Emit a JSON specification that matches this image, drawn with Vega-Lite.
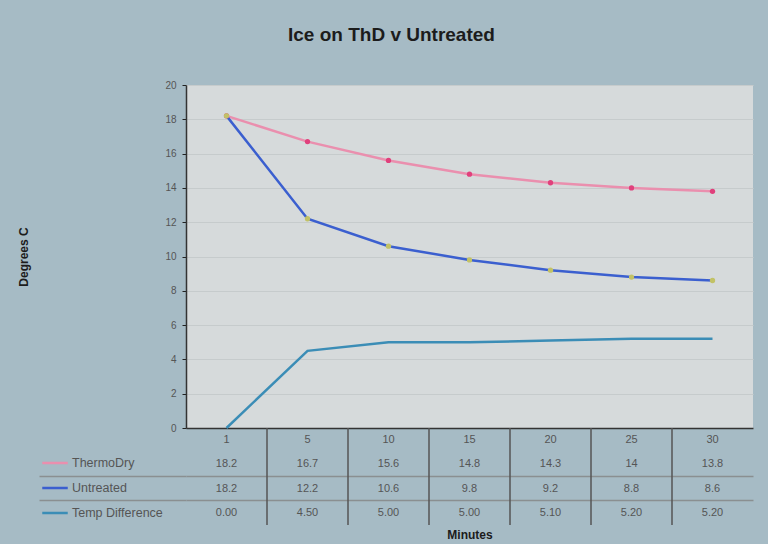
{
  "$schema": "https://vega.github.io/schema/vega-lite/v6.json",
  "background": "#a6bbc5",
  "padding": {"left": 17, "top": 26, "right": 16, "bottom": 4},
  "title": {"text": "Ice on ThD v Untreated", "font": "Liberation Sans", "fontSize": 19, "fontWeight": "bold", "color": "#1c1c1c", "anchor": "middle", "offset": 35, "dx": 6},
  "datasets": {
    "readings": [
      {"Minutes": "1", "series": "ThermoDry", "value": 18.2, "label": "18.2"},
      {"Minutes": "5", "series": "ThermoDry", "value": 16.7, "label": "16.7"},
      {"Minutes": "10", "series": "ThermoDry", "value": 15.6, "label": "15.6"},
      {"Minutes": "15", "series": "ThermoDry", "value": 14.8, "label": "14.8"},
      {"Minutes": "20", "series": "ThermoDry", "value": 14.3, "label": "14.3"},
      {"Minutes": "25", "series": "ThermoDry", "value": 14.0, "label": "14"},
      {"Minutes": "30", "series": "ThermoDry", "value": 13.8, "label": "13.8"},
      {"Minutes": "1", "series": "Untreated", "value": 18.2, "label": "18.2"},
      {"Minutes": "5", "series": "Untreated", "value": 12.2, "label": "12.2"},
      {"Minutes": "10", "series": "Untreated", "value": 10.6, "label": "10.6"},
      {"Minutes": "15", "series": "Untreated", "value": 9.8, "label": "9.8"},
      {"Minutes": "20", "series": "Untreated", "value": 9.2, "label": "9.2"},
      {"Minutes": "25", "series": "Untreated", "value": 8.8, "label": "8.8"},
      {"Minutes": "30", "series": "Untreated", "value": 8.6, "label": "8.6"},
      {"Minutes": "1", "series": "Temp Difference", "value": 0.0, "label": "0.00"},
      {"Minutes": "5", "series": "Temp Difference", "value": 4.5, "label": "4.50"},
      {"Minutes": "10", "series": "Temp Difference", "value": 5.0, "label": "5.00"},
      {"Minutes": "15", "series": "Temp Difference", "value": 5.0, "label": "5.00"},
      {"Minutes": "20", "series": "Temp Difference", "value": 5.1, "label": "5.10"},
      {"Minutes": "25", "series": "Temp Difference", "value": 5.2, "label": "5.20"},
      {"Minutes": "30", "series": "Temp Difference", "value": 5.2, "label": "5.20"}
    ]
  },
  "data": {"name": "readings"},
  "spacing": 0,
  "bounds": "flush",
  "config": {
    "font": "Liberation Sans",
    "view": {"stroke": null},
    "legend": {
      "orient": "none", "legendX": -145, "legendY": 364, "title": null,
      "symbolType": "stroke", "symbolStrokeWidth": 2.5, "symbolSize": 650,
      "labelFont": "Liberation Sans", "labelFontSize": 12.5, "labelColor": "#555",
      "rowPadding": 4, "direction": "vertical", "labelOffset": 3
    }
  },
  "vconcat": [
    {
      "width": 567,
      "height": 343,
      "view": {"fill": "#d6dadb", "stroke": null},
      "encoding": {
        "x": {"field": "Minutes", "type": "ordinal",
              "scale": {"type": "point", "padding": 0.5, "domain": ["1", "5", "10", "15", "20", "25", "30"]},
              "axis": {"title": null, "labels": false, "ticks": false, "domain": true, "domainColor": "#333", "domainWidth": 1.5, "grid": false}},
        "y": {"field": "value", "type": "quantitative", "scale": {"domain": [0, 20]},
              "axis": {"title": "Degrees C", "titleFontSize": 12, "titleFontWeight": "bold", "titleColor": "#1c1c1c", "titlePadding": 134,
                       "values": [0, 2, 4, 6, 8, 10, 12, 14, 16, 18, 20], "labelOverlap": false, "labelFontSize": 10, "labelColor": "#555", "labelPadding": 6,
                       "tickSize": 4, "tickColor": "#222", "domainColor": "#333", "domainWidth": 1.5,
                       "grid": true, "gridColor": "#c6cbcc", "gridWidth": 1}}
      },
      "layer": [
        {
          "mark": {"type": "line", "strokeWidth": 2.5},
          "encoding": {
            "color": {"field": "series", "type": "nominal", "sort": null,
                      "scale": {"domain": ["ThermoDry", "Untreated", "Temp Difference"], "range": ["#ea8fae", "#3b5fcf", "#3b8db6"]}}
          }
        },
        {
          "transform": [{"filter": "datum.series != 'Temp Difference'"}],
          "mark": {"type": "circle", "opacity": 1, "size": 28},
          "encoding": {
            "fill": {"field": "series", "type": "nominal", "legend": null,
                     "scale": {"domain": ["ThermoDry", "Untreated"], "range": ["#e0407c", "#c2c266"]}}
          }
        }
      ]
    },
    {
      "width": 567,
      "height": 97,
      "encoding": {
        "x": {"field": "Minutes", "type": "ordinal",
              "scale": {"type": "band", "paddingInner": 0, "paddingOuter": 0, "domain": ["1", "5", "10", "15", "20", "25", "30"]},
              "axis": {"title": "Minutes", "titleFontSize": 12, "titleFontWeight": "bold", "titleColor": "#1c1c1c", "titlePadding": 4,
                       "labels": false, "ticks": false, "domain": false, "grid": false}}
      },
      "layer": [
        {
          "mark": {"type": "rule", "color": "#555", "strokeWidth": 1.5},
          "transform": [{"filter": "datum.series == 'ThermoDry' && datum.Minutes != '1'"}],
          "encoding": {
            "x": {"field": "Minutes", "type": "ordinal", "bandPosition": 0}
          }
        },
        {
          "mark": {"type": "text", "fontSize": 11, "color": "#555"},
          "encoding": {
            "y": {"field": "series", "type": "ordinal",
                  "scale": {"type": "band", "domain": ["Minutes", "ThermoDry", "Untreated", "Temp Difference"], "paddingInner": 0, "paddingOuter": 0},
                  "axis": {"title": null, "labels": false, "domain": false, "values": ["Untreated", "Temp Difference"], "bandPosition": 0,
                           "ticks": true, "tickSize": 147, "tickColor": "#8a8f91", "tickWidth": 1.5,
                           "grid": true, "gridColor": "#8a8f91", "gridWidth": 1.5}},
            "text": {"field": "label"}
          }
        },
        {
          "transform": [{"filter": "datum.series == 'ThermoDry'"}],
          "mark": {"type": "text", "fontSize": 11, "color": "#555"},
          "encoding": {
            "y": {"datum": "Minutes", "type": "ordinal"},
            "text": {"field": "Minutes"}
          }
        }
      ]
    }
  ]
}
